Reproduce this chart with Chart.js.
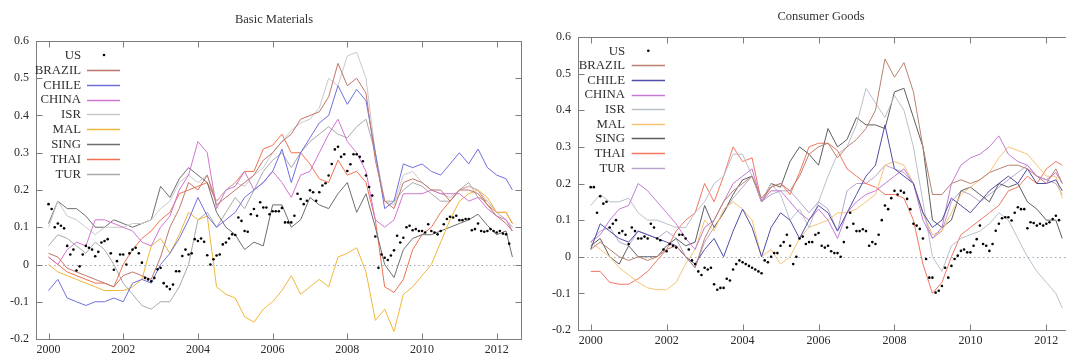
<!DOCTYPE html>
<html>
<head>
<meta charset="utf-8">
<script src="https://cdn.jsdelivr.net/npm/chart.js@4.4.1/dist/chart.umd.min.js"></script>
<style>
html,body{margin:0;padding:0;background:#fff;overflow:hidden;width:1066px;height:357px;position:relative;}
.panel{position:absolute;top:0;}
.title{position:absolute;font-family:'Liberation Serif',serif;font-size:12.5px;color:#333;white-space:nowrap;transform:translateX(-50%);line-height:14px;}
</style>
</head>
<body>
<div class="panel" style="left:0;width:533px;height:357px"><canvas id="c1" width="533" height="357" style="width:533px;height:357px"></canvas></div>
<div class="panel" style="left:533px;width:545px;height:357px"><canvas id="c2" width="545" height="357" style="width:545px;height:357px"></canvas></div>
<div class="title" style="left:274px;top:12px">Basic Materials</div>
<div class="title" style="left:821px;top:9px">Consumer Goods</div>
<script>
// ---------- shared axis data ----------
const xTickValues = [2000, 2002, 2004, 2006, 2008, 2010, 2012];
const xTickLabels = ['2000', '2002', '2004', '2006', '2008', '2010', '2012'];
const yTickValues = [-0.2, -0.1, 0, 0.1, 0.2, 0.3, 0.4, 0.5, 0.6];
const yTickLabels = ['-0.2', '-0.1', '0', '0.1', '0.2', '0.3', '0.4', '0.5', '0.6'];
const seriesNames = ['US', 'BRAZIL', 'CHILE', 'CHINA', 'ISR', 'MAL', 'SING', 'THAI', 'TUR'];

// monthly dates for US, quarterly dates for the country lines
const monthYears = Array.from({length: 149}, (_, i) => 2000 + i / 12);
const quarterYears = Array.from({length: 50}, (_, k) => 2000 + k / 4).concat([2012.42]);

// ---------- Basic Materials ----------
const bmUS = [0.162,0.149,0.10,0.11,0.104,0.097,0.05,0.027,0.04,-0.016,-0.005,0.027,
  0.05,0.045,0.04,0.022,0.034,0.059,0.063,0.068,0.03,-0.014,0.009,0.027,
  0.027,0.0,0.03,0.04,0.045,0.03,0.005,-0.036,-0.04,-0.045,-0.036,-0.013,
  -0.009,-0.05,-0.059,-0.066,-0.054,-0.018,-0.018,0.023,0.04,0.027,0.03,0.068,
  0.063,0.07,0.061,0.025,0.0,0.014,0.024,0.027,0.054,0.059,0.07,0.081,
  0.079,0.126,0.117,0.09,0.088,0.135,0.149,0.131,0.167,0.153,0.153,0.135,
  0.143,0.143,0.143,0.152,0.113,0.113,0.113,0.131,0.19,0.176,0.162,0.171,
  0.199,0.194,0.171,0.194,0.212,0.218,0.239,0.27,0.309,0.316,0.289,0.296,
  0.251,0.269,0.296,0.296,0.289,0.277,0.239,0.208,0.185,0.075,-0.009,0.027,
  0.018,0.012,0.024,0.038,0.077,0.059,0.072,0.1,0.104,0.092,0.095,0.09,
  0.09,0.086,0.108,0.09,0.086,0.081,0.09,0.108,0.122,0.128,0.126,0.131,
  0.119,0.119,0.122,0.122,0.092,0.095,0.11,0.09,0.088,0.09,0.095,0.09,
  0.086,0.09,0.083,0.081,0.056];
const bmBRAZIL = [0.03,0.02,-0.01,-0.02,-0.03,-0.04,-0.05,-0.06,-0.03,-0.02,-0.03,-0.04,0.02,0.10,0.15,0.22,0.20,0.24,0.16,0.18,0.20,0.22,0.24,0.28,0.30,0.33,0.35,0.39,0.40,0.41,0.45,0.54,0.48,0.50,0.46,0.28,0.17,0.15,0.22,0.23,0.22,0.20,0.20,0.17,0.20,0.20,0.19,0.16,0.13,0.11,0.09];
const bmCHILE = [-0.07,-0.04,-0.09,-0.10,-0.11,-0.10,-0.10,-0.09,-0.10,-0.05,-0.04,-0.05,0.0,0.03,0.07,0.12,0.18,0.13,0.10,0.12,0.14,0.18,0.20,0.22,0.25,0.31,0.22,0.30,0.34,0.38,0.40,0.48,0.43,0.47,0.44,0.30,0.15,0.17,0.27,0.26,0.27,0.25,0.24,0.27,0.30,0.27,0.31,0.26,0.24,0.23,0.20];
const bmCHINA = [0.02,0.0,0.04,0.06,0.05,0.12,0.12,0.11,0.10,0.09,0.06,0.05,0.10,0.13,0.20,0.24,0.33,0.30,0.15,0.20,0.21,0.25,0.20,0.22,0.25,0.22,0.18,0.24,0.25,0.30,0.35,0.39,0.33,0.30,0.25,0.12,0.10,0.12,0.19,0.19,0.19,0.20,0.19,0.19,0.19,0.17,0.18,0.15,0.13,0.12,0.09];
const bmISR = [0.10,0.17,0.13,0.12,0.10,0.08,0.10,0.10,0.10,0.11,0.11,0.12,0.15,0.17,0.22,0.24,0.22,0.24,0.17,0.20,0.22,0.21,0.24,0.26,0.30,0.33,0.36,0.38,0.39,0.42,0.50,0.48,0.56,0.57,0.50,0.30,0.17,0.16,0.24,0.25,0.22,0.20,0.19,0.18,0.20,0.21,0.20,0.17,0.14,0.12,0.10];
const bmMAL = [0.0,-0.02,-0.03,-0.04,-0.05,-0.06,-0.07,-0.07,-0.07,-0.06,-0.04,0.05,0.07,0.03,0.08,0.14,0.12,0.13,-0.06,-0.08,-0.09,-0.14,-0.155,-0.12,-0.10,-0.07,-0.03,-0.08,-0.06,-0.04,-0.06,0.02,0.03,0.045,-0.02,-0.15,-0.12,-0.18,-0.08,-0.06,-0.03,0.0,0.06,0.12,0.17,0.19,0.20,0.18,0.14,0.14,0.11];
const bmSING = [0.11,0.17,0.15,0.15,0.13,0.10,0.10,0.12,0.11,0.10,0.11,0.12,0.21,0.18,0.23,0.26,0.24,0.22,0.14,0.10,0.08,0.04,0.06,0.05,0.16,0.16,0.10,0.12,0.18,0.16,0.15,0.19,0.22,0.14,0.19,0.10,0.0,-0.035,0.04,0.07,0.08,0.08,0.09,0.10,0.11,0.12,0.135,0.105,0.08,0.09,0.02];
const bmTHAI = [0.02,0.0,-0.02,-0.03,-0.04,-0.05,-0.05,-0.06,0.0,0.04,0.07,0.09,0.12,0.14,0.19,0.20,0.21,0.22,0.17,0.20,0.22,0.25,0.25,0.31,0.32,0.35,0.30,0.30,0.27,0.23,0.22,0.28,0.24,0.25,0.22,0.12,-0.06,-0.075,-0.04,0.04,0.08,0.10,0.14,0.17,0.20,0.21,0.20,0.16,0.14,0.14,0.11];
const bmTUR = [0.05,0.08,0.07,0.05,0.03,0.06,0.04,0.0,-0.05,-0.08,-0.11,-0.12,-0.10,-0.10,-0.06,0.0,0.12,0.14,0.10,0.14,0.18,0.15,0.20,0.25,0.28,0.30,0.26,0.30,0.33,0.35,0.37,0.35,0.34,0.37,0.39,0.30,0.17,0.17,0.20,0.22,0.21,0.19,0.17,0.17,0.20,0.22,0.18,0.17,0.14,0.12,0.10];

// ---------- Consumer Goods ----------
const cgUS = [0.19,0.19,0.12,0.165,0.145,0.15,0.08,0.09,0.10,0.065,0.07,0.06,
  0.035,0.08,0.07,0.05,0.05,0.055,0.05,0.09,0.08,0.05,0.045,0.02,
  0.015,0.035,0.03,0.025,0.06,0.06,0.05,0.02,-0.01,-0.02,-0.04,-0.05,
  -0.03,-0.035,-0.03,-0.075,-0.09,-0.085,-0.085,-0.06,-0.065,-0.035,-0.02,-0.01,
  -0.015,-0.02,-0.025,-0.03,-0.035,-0.04,-0.045,-0.01,-0.015,0.0,0.01,0.01,
  0.03,0.04,0.06,0.03,-0.02,0.0,0.05,0.055,0.035,0.04,0.04,0.06,
  0.065,0.03,0.025,0.03,0.015,0.01,0.01,0.0,0.04,0.08,0.12,0.09,
  0.07,0.07,0.075,0.07,0.03,0.04,0.035,0.06,0.10,0.14,0.13,0.16,
  0.18,0.17,0.18,0.175,0.158,0.13,0.09,0.085,0.076,0.05,-0.006,-0.057,
  -0.057,-0.098,-0.093,-0.08,-0.03,-0.057,-0.025,-0.006,0.003,0.016,0.02,0.012,
  0.012,0.03,0.048,0.085,0.035,0.03,0.016,0.035,0.071,0.09,0.105,0.108,
  0.108,0.099,0.12,0.135,0.13,0.13,0.078,0.094,0.092,0.085,0.09,0.085,
  0.09,0.094,0.103,0.112,0.10];
const cgBRAZIL = [0.02,0.04,0.02,0.0,-0.01,0.0,-0.01,0.0,0.02,0.03,0.0,-0.03,0.05,0.10,0.15,0.18,0.20,0.22,0.16,0.19,0.20,0.18,0.22,0.28,0.30,0.31,0.27,0.30,0.32,0.35,0.40,0.54,0.49,0.53,0.45,0.30,0.17,0.17,0.20,0.21,0.20,0.21,0.23,0.24,0.25,0.25,0.24,0.22,0.20,0.24,0.20];
const cgCHILE = [0.02,0.09,0.07,0.05,0.04,0.07,0.06,0.05,0.04,0.03,0.0,-0.02,0.02,0.05,0.0,0.07,0.13,0.08,0.0,0.08,0.12,0.10,0.05,0.10,0.14,0.12,0.07,0.12,0.17,0.22,0.25,0.36,0.24,0.22,0.20,0.12,0.08,0.10,0.16,0.14,0.12,0.15,0.18,0.20,0.22,0.20,0.24,0.20,0.20,0.21,0.18];
const cgCHINA = [0.04,0.06,0.10,0.13,0.14,0.20,0.18,0.15,0.12,0.09,0.05,0.02,0.08,0.10,0.15,0.20,0.22,0.24,0.15,0.18,0.18,0.15,0.12,0.10,0.13,0.10,0.05,0.12,0.15,0.17,0.18,0.20,0.22,0.24,0.20,0.10,0.05,0.08,0.20,0.25,0.27,0.28,0.30,0.33,0.28,0.26,0.25,0.22,0.21,0.23,0.20];
const cgISR = [0.14,0.17,0.15,0.15,0.16,0.12,0.10,0.10,0.09,0.08,0.08,0.12,0.15,0.20,0.22,0.28,0.28,0.22,0.15,0.20,0.17,0.10,0.13,0.08,0.15,0.22,0.28,0.30,0.36,0.46,0.42,0.38,0.44,0.40,0.30,0.15,0.0,-0.04,0.03,0.05,0.06,0.07,0.09,0.12,0.10,0.05,0.0,-0.04,-0.07,-0.10,-0.14];
const cgMAL = [0.04,0.02,0.0,-0.03,-0.05,-0.07,-0.085,-0.09,-0.09,-0.07,-0.02,0.02,0.10,0.07,0.13,0.15,0.13,0.10,0.0,0.02,-0.02,0.0,0.05,0.08,0.09,0.10,0.12,0.12,0.13,0.15,0.17,0.25,0.26,0.25,0.20,0.12,0.06,0.07,0.12,0.17,0.19,0.21,0.23,0.27,0.30,0.29,0.28,0.25,0.22,0.22,0.16];
const cgSING = [0.03,0.05,0.0,-0.02,0.03,0.0,0.0,0.0,0.03,0.05,0.03,0.04,0.14,0.08,0.12,0.17,0.21,0.22,0.15,0.20,0.19,0.26,0.30,0.28,0.25,0.35,0.30,0.32,0.38,0.36,0.36,0.35,0.45,0.46,0.38,0.30,0.10,0.08,0.10,0.18,0.19,0.17,0.15,0.20,0.19,0.20,0.15,0.13,0.10,0.10,0.05];
const cgTHAI = [-0.04,-0.04,-0.07,-0.075,-0.075,-0.06,-0.04,-0.01,0.02,0.07,0.10,0.12,0.20,0.15,0.22,0.30,0.26,0.27,0.15,0.19,0.20,0.17,0.23,0.30,0.31,0.31,0.29,0.24,0.22,0.20,0.19,0.17,0.17,0.16,0.10,-0.02,-0.10,-0.07,0.0,0.06,0.08,0.10,0.12,0.14,0.18,0.19,0.22,0.20,0.24,0.26,0.25];
const cgTUR = [0.04,0.07,0.08,0.04,0.03,0.07,0.06,0.05,0.07,0.05,0.0,-0.03,0.04,0.08,0.12,0.16,0.19,0.22,0.15,0.17,0.18,0.18,0.15,0.12,0.15,0.13,0.07,0.18,0.20,0.20,0.22,0.25,0.24,0.23,0.20,0.12,0.05,0.07,0.15,0.18,0.17,0.15,0.17,0.19,0.21,0.23,0.25,0.22,0.21,0.20,0.17];

const bmColors = ['#000000','#c0766a','#6f6fe0','#d274d2','#c9c9c9','#f0b53c','#6e6e6e','#f2704e','#a9a9a9'];
const cgColors = ['#000000','#b9806f','#4e4ea6','#c47ad4','#b9c1c9','#f7c374','#5e5e5e','#f27562','#b9a3cb'];

function pts(years, vals) { return vals.map((v, i) => ({x: years[i], y: v})); }

const framePlugin = {
  id: 'gpFrame',
  beforeDatasetsDraw(chart) {
    const {ctx, chartArea: a, scales: {y}} = chart;
    const y0 = Math.round(y.getPixelForValue(0)) + 0.5;
    ctx.save();
    ctx.strokeStyle = '#9aa8b8';
    ctx.lineWidth = 1;
    ctx.setLineDash([1.5, 3]);
    ctx.beginPath(); ctx.moveTo(a.left, y0); ctx.lineTo(a.right, y0); ctx.stroke();
    ctx.restore();
  },
  afterDatasetsDraw(chart, args, opts) {
    const {ctx, chartArea: a, scales: {x, y}} = chart;
    const L = Math.round(a.left) + 0.5, R = Math.round(a.right) + 0.5;
    const T = Math.round(a.top) + 0.5, B = Math.round(a.bottom) + 0.5;
    ctx.save();
    ctx.strokeStyle = '#7c7c7c';
    ctx.lineWidth = 1;
    ctx.strokeRect(L, T, R - L, B - T);
    const tl = 6;
    ctx.beginPath();
    xTickValues.forEach(v => {
      const px = Math.round(x.getPixelForValue(v)) + 0.5;
      ctx.moveTo(px, B); ctx.lineTo(px, B - tl);
      ctx.moveTo(px, T); ctx.lineTo(px, T + tl);
    });
    yTickValues.forEach(v => {
      const py = Math.round(y.getPixelForValue(v)) + 0.5;
      ctx.moveTo(L, py); ctx.lineTo(L + tl, py);
      ctx.moveTo(R, py); ctx.lineTo(R - tl, py);
    });
    ctx.stroke();
    // key
    ctx.font = "12.8px 'Liberation Serif'";
    ctx.textAlign = 'right';
    ctx.textBaseline = 'middle';
    chart.data.datasets.forEach((ds, i) => {
      const ty = opts.top + i * opts.step;
      ctx.fillStyle = '#303030';
      ctx.fillText(ds.label, opts.textRight, ty + 0.5);
      if (i === 0) {
        ctx.fillStyle = '#000';
        ctx.beginPath(); ctx.arc(opts.dotX, ty, 1.3, 0, Math.PI * 2); ctx.fill();
      } else {
        ctx.strokeStyle = ds.borderColor;
        ctx.lineWidth = 1.4;
        ctx.beginPath(); ctx.moveTo(opts.x1, Math.round(ty) + 0.5); ctx.lineTo(opts.x2, Math.round(ty) + 0.5); ctx.stroke();
      }
    });
    ctx.restore();
  }
};

function makeChart(id, cfg) {
  const datasets = [{
    label: seriesNames[0], data: pts(monthYears, cfg.series[0]), showLine: false,
    pointRadius: 1.3, pointBackgroundColor: '#000', pointBorderWidth: 0, borderColor: '#000'
  }];
  for (let i = 1; i < seriesNames.length; i++) {
    datasets.push({
      label: seriesNames[i], data: pts(quarterYears, cfg.series[i]), showLine: true,
      borderColor: cfg.colors[i], borderWidth: 1, pointRadius: 0, tension: 0, fill: false
    });
  }
  const font = {family: "'Liberation Serif'", size: 12};
  return new Chart(document.getElementById(id), {
    type: 'scatter',
    data: {datasets},
    options: {
      responsive: false, animation: false, devicePixelRatio: 1,
      events: [],
      layout: {padding: {left: 0, top: cfg.top, right: cfg.padRight, bottom: 0}},
      plugins: {
        legend: {display: false}, title: {display: false}, tooltip: {enabled: false},
        gpFrame: cfg.key
      },
      scales: {
        x: {
          type: 'linear', min: cfg.xmin, max: cfg.xmax,
          grid: {display: false, drawTicks: false}, border: {display: false},
          afterBuildTicks: s => { s.ticks = xTickValues.map(v => ({value: v})); },
          afterFit: s => { s.height = cfg.xAxisH; },
          ticks: {font, color: '#2a2a2a', padding: 4, maxRotation: 0, autoSkip: false,
                  callback: (v, i) => xTickLabels[i]}
        },
        y: {
          type: 'linear', min: -0.2, max: 0.6,
          grid: {display: false, drawTicks: false}, border: {display: false},
          afterBuildTicks: s => { s.ticks = yTickValues.map(v => ({value: v})); },
          afterFit: s => { s.width = cfg.yAxisW; },
          ticks: {font, color: '#2a2a2a', padding: 7, autoSkip: false,
                  callback: (v, i) => yTickLabels[i]}
        }
      }
    },
    plugins: [framePlugin]
  });
}

makeChart('c1', {
  series: [bmUS, bmBRAZIL, bmCHILE, bmCHINA, bmISR, bmMAL, bmSING, bmTHAI, bmTUR],
  colors: bmColors,
  top: 41, padRight: 12, xAxisH: 357 - 339, yAxisW: 36,
  xmin: 1999.665, xmax: 2012.65,
  key: {textRight: 81, x1: 87, x2: 120, dotX: 104, top: 55, step: 14.85}
});
makeChart('c2', {
  series: [cgUS, cgBRAZIL, cgCHILE, cgCHINA, cgISR, cgMAL, cgSING, cgTHAI, cgTUR],
  colors: cgColors,
  top: 37, padRight: 5, xAxisH: 357 - 330, yAxisW: 45,
  xmin: 1999.6655, xmax: 2012.702,
  key: {textRight: 92, x1: 98.7, x2: 132, dotX: 115.3, top: 50.7, step: 14.63}
});
</script>
</body>
</html>
